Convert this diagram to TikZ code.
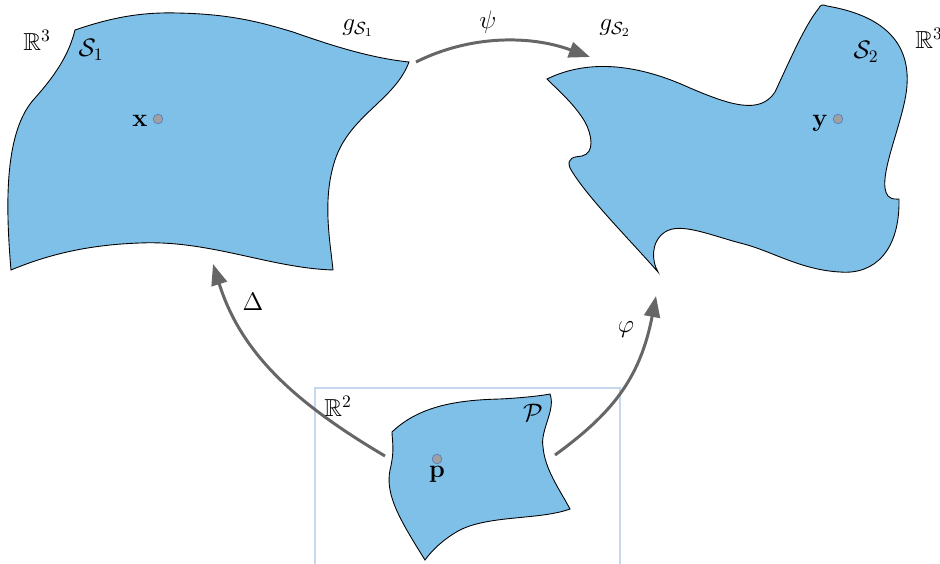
\documentclass[tikz,border=0pt]{standalone}
\usepackage{amsmath,amssymb}
\usetikzlibrary{arrows.meta}
\definecolor{surf}{HTML}{7FC0E8}
\definecolor{arr}{HTML}{666666}
\definecolor{dotfill}{HTML}{A0A0A0}
\definecolor{dotline}{HTML}{5A7FC0}
\definecolor{boxline}{HTML}{C5D8EE}
\tikzset{
  surface/.style={fill=surf, draw=black, line width=0.5pt},
  maparrow/.style={draw=arr, line width=1.7pt, -{Triangle[length=12pt,width=9pt]}},
  lbl/.style={inner sep=0pt, font=\fontsize{14}{16}\selectfont},
  pt/.style={circle, fill=dotfill, draw=dotline, line width=0.4pt, minimum size=5.5pt, inner sep=0pt},
}
\begin{document}
\begin{tikzpicture}[x=0.02cm, y=-0.02cm]
\useasboundingbox (0,0) rectangle (940,564);
% R2 frame
\draw[boxline, line width=0.6pt] (315,570) -- (315,388) -- (620,388) -- (620,570);
% S1
\path[surface] (75,30) .. controls (110,18) and (140,12) .. (177,13)
  .. controls (230,14) and (260,22) .. (293,32)
  .. controls (330,45) and (370,58) .. (409,62)
  .. controls (395,100) and (350,115) .. (335,160)
  .. controls (322,200) and (330,240) .. (333,270)
  .. controls (270,268) and (210,240) .. (140,243)
  .. controls (80,245) and (40,258) .. (11,270)
  .. controls (5,200) and (5,130) .. (35,98)
  .. controls (60,70) and (70,50) .. cycle;
% S2
\path[surface] (547,79) .. controls (590,58) and (640,65) .. (690,88)
  .. controls (730,105) and (760,115) .. (775,92)
  .. controls (790,60) and (805,25) .. (819,8)
  .. controls (820,5) and (823,4) .. (827,6)
  .. controls (880,15) and (910,40) .. (907,85)
  .. controls (905,120) and (875,180) .. (888,196)
  .. controls (892,200) and (897,199) .. (899,199)
  .. controls (900,250) and (875,275) .. (840,272)
  .. controls (800,270) and (770,250) .. (740,243)
  .. controls (710,235) and (680,222) .. (665,232)
  .. controls (650,242) and (652,262) .. (658,272)
  .. controls (630,240) and (585,195) .. (570,168)
  .. controls (566,157) and (575,157) .. (582,156)
  .. controls (595,153) and (592,135) .. (585,122)
  .. controls (575,105) and (560,92) .. cycle;
% P
\path[surface] (392,432) .. controls (420,405) and (460,400) .. (500,399)
  .. controls (520,398) and (540,396) .. (550,394)
  .. controls (556,410) and (540,430) .. (543,447)
  .. controls (545,470) and (560,490) .. (570,509)
  .. controls (540,520) and (490,515) .. (460,530)
  .. controls (445,538) and (432,550) .. (425,560)
  .. controls (400,520) and (385,495) .. (390,470)
  .. controls (395,450) and (392,440) .. cycle;
% points
\node[pt] (xdot) at (158,119) {};
\node[pt] (ydot) at (838,119) {};
\node[pt] (pdot) at (437,459) {};
% labels
\node[lbl] (R3a) at (37,40) {$\mathbb{R}^3$};
\node[lbl, anchor=west] (R3b) at (915,38) {$\mathbb{R}^3$};
\node[lbl] (R2) at (338,406) {$\mathbb{R}^2$};
\node[lbl] (S1) at (91,50) {$\mathcal{S}_1$};
\node[lbl] (S2) at (866,52) {$\mathcal{S}_2$};
\node[lbl] (P) at (533,413) {$\mathcal{P}$};
\node[lbl] (gS1) at (358,28) {$g_{\mathcal{S}_1}$};
\node[lbl] (gS2) at (615,28) {$g_{\mathcal{S}_2}$};
\node[lbl] (psi) at (488,22) {$\psi$};
\node[lbl] (Delta) at (253,302) {$\Delta$};
\node[lbl] (phi) at (626,330) {$\varphi$};
\node[lbl] (x) at (140,121) {$\mathbf{x}$};
\node[lbl] (y) at (820,123) {$\mathbf{y}$};
\node[lbl] (p) at (437,474) {$\mathbf{p}$};
% arrow ends
\coordinate (psiS) at (416,62);
\coordinate (psiE) at (590,57);
\coordinate (delS) at (385,456);
\coordinate (delE) at (213,264);
\coordinate (phiS) at (555,455);
\coordinate (phiE) at (656,296);
\draw[maparrow] (psiS) .. controls (470,35) and (530,35) .. (psiE);
\draw[maparrow] (delS) .. controls (290,400) and (240,350) .. (delE);
\draw[maparrow] (phiS) .. controls (610,415) and (640,380) .. (phiE);
\end{tikzpicture}
\end{document}
